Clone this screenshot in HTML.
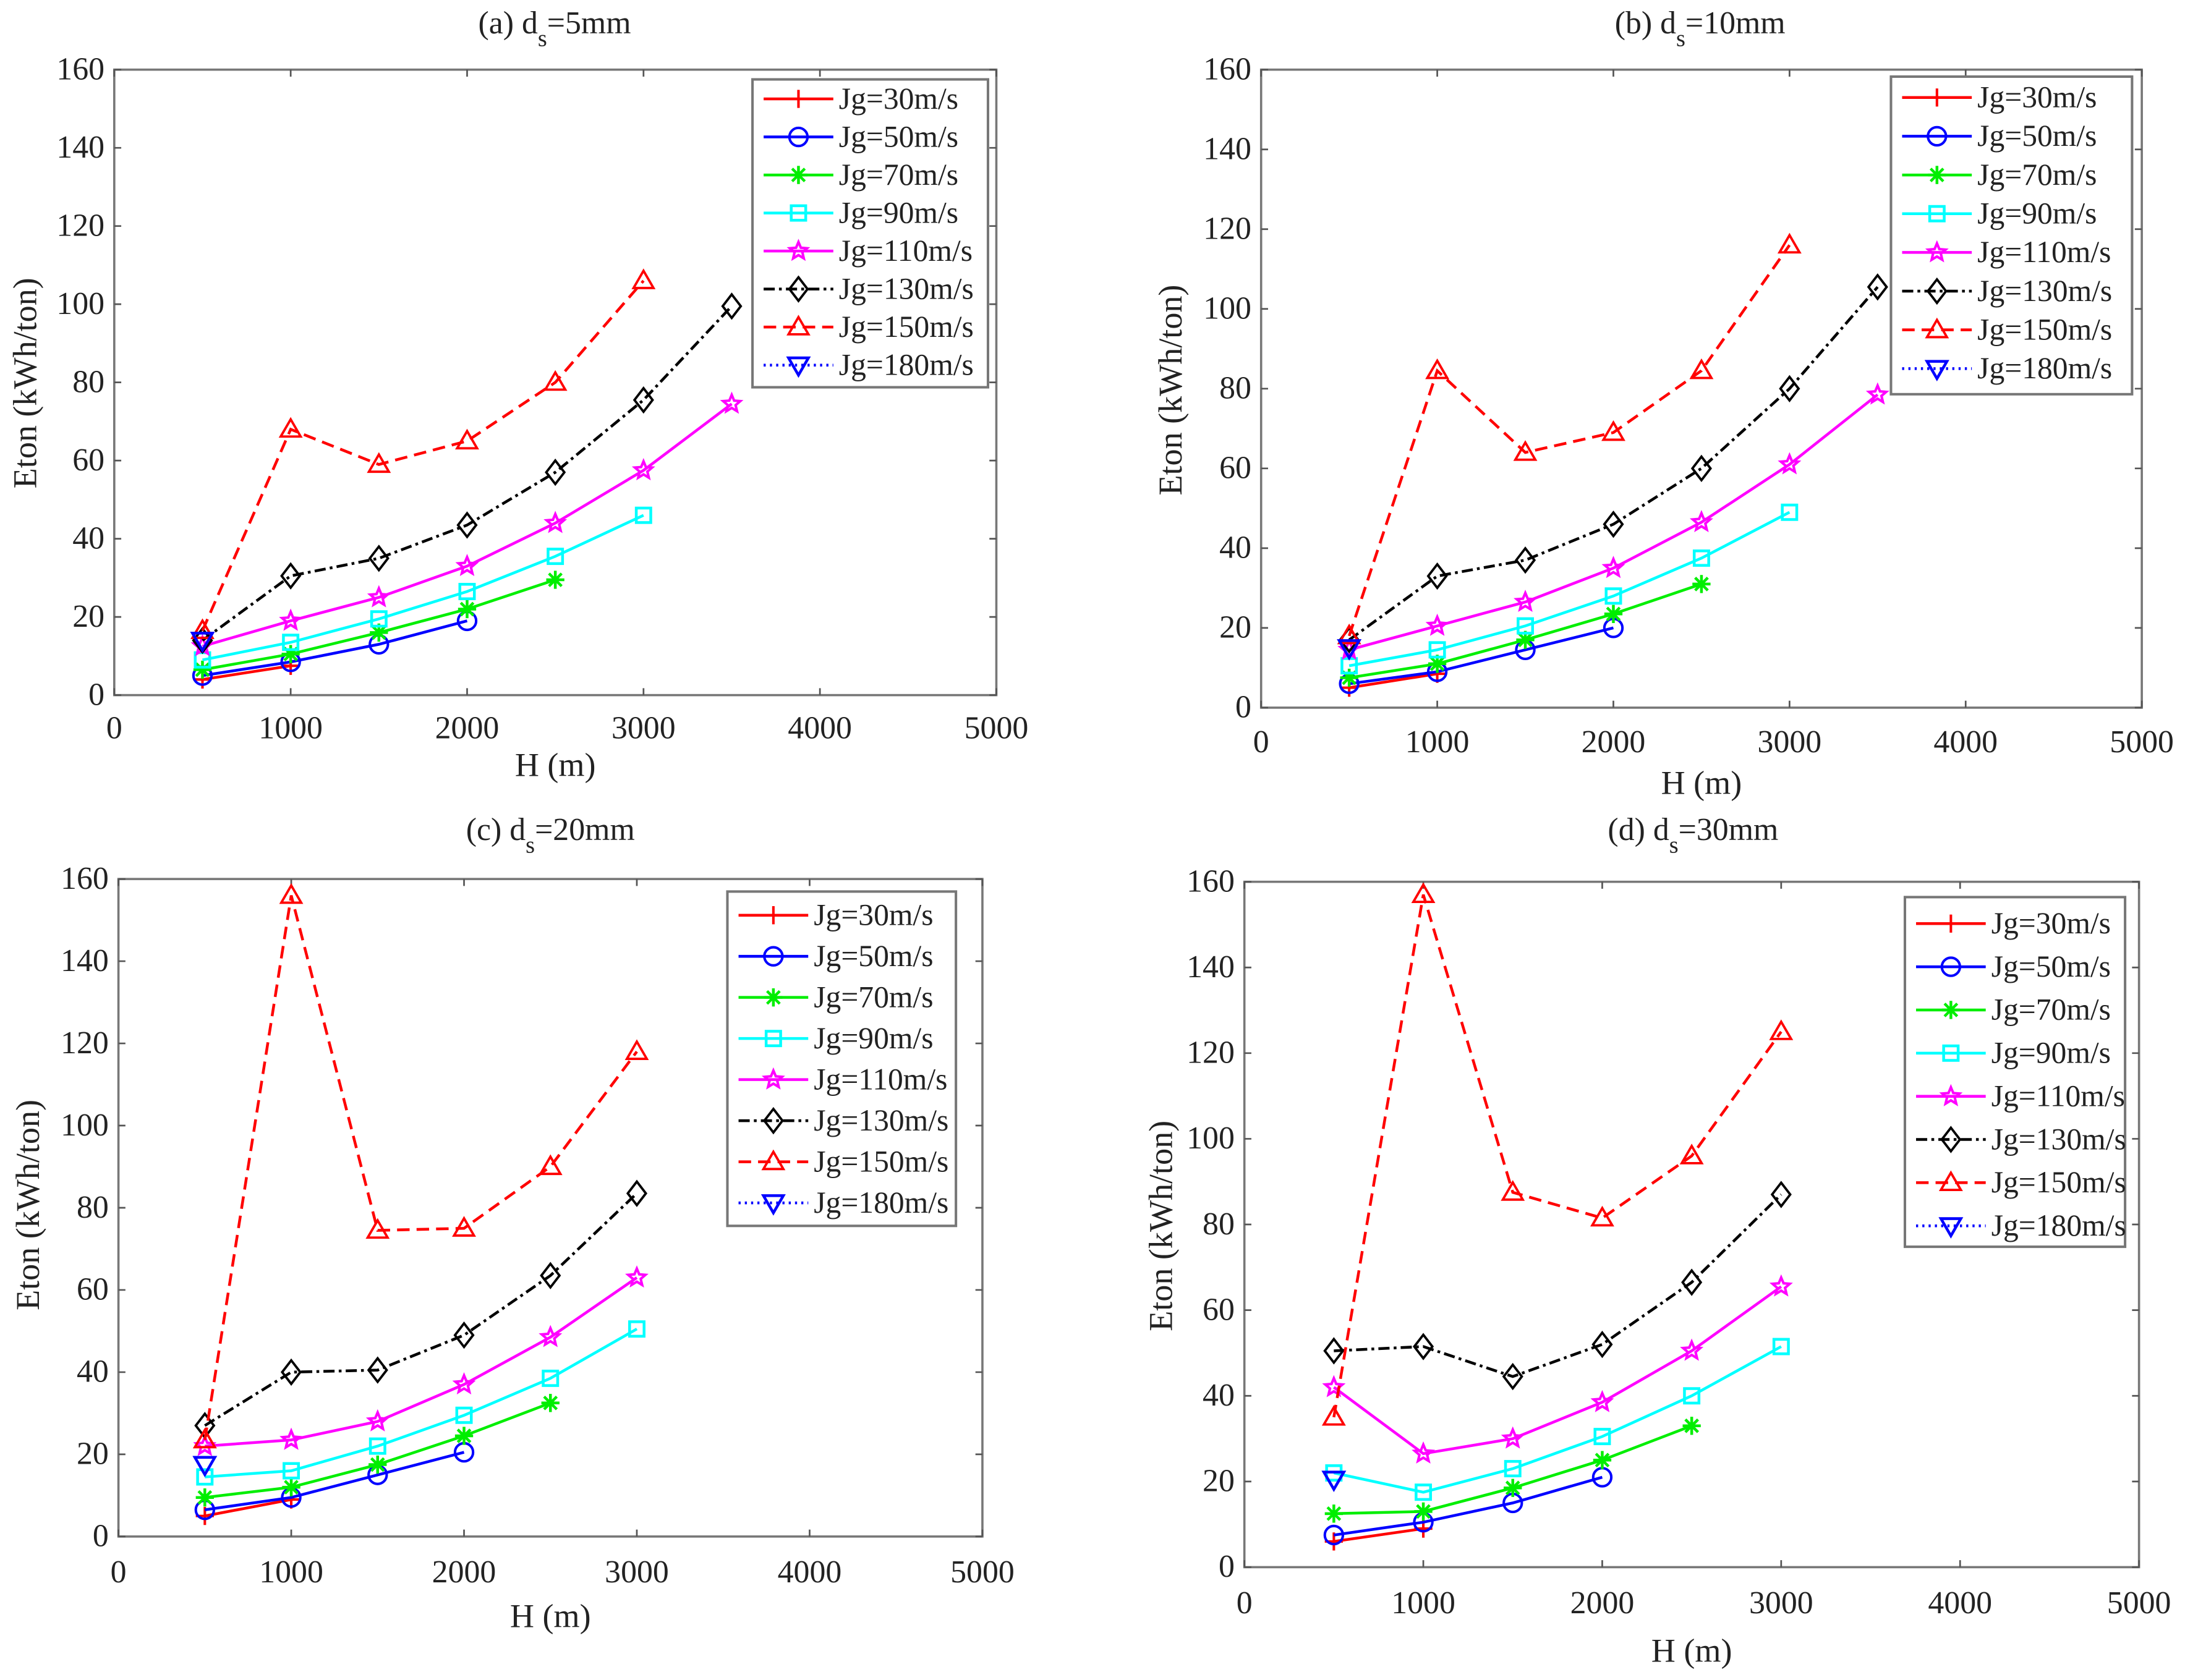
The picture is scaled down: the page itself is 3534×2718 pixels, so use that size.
<!DOCTYPE html>
<html><head><meta charset="utf-8"><style>
html,body{margin:0;padding:0;background:#fff}
svg{display:block}
svg text{font-family:"Liberation Serif","DejaVu Serif",serif;fill:#222}
</style></head><body>
<svg id="chart" width="3534" height="2718" viewBox="0 0 1568 1206" preserveAspectRatio="none" font-family="Liberation Serif, serif" xmlns="http://www.w3.org/2000/svg"></svg>
<script>
const heights = [500,1000,1500,2000,2500,3000,3500];
const seriesNames = ["Jg=30m/s","Jg=50m/s","Jg=70m/s","Jg=90m/s","Jg=110m/s","Jg=130m/s","Jg=150m/s","Jg=180m/s"];
const xTicks = [0,1000,2000,3000,4000,5000];
const yTicks = [0,20,40,60,80,100,120,140,160];
// panel (a) ds=5mm
const a30=[4,7.5], a50=[5,8.5,13,19], a70=[6.5,10.5,16,22,29.5], a90=[9,13.5,19.5,26.5,35.5,46],
      a110=[12.5,19,25,33,44,57.5,74.5], a130=[14,30.5,35,43.5,57,75.5,99.5], a150=[16.5,68,59,65,80,106], a180=[14];
// panel (b) ds=10mm
const b30=[5,8.5], b50=[6,9,14.5,20], b70=[7.5,11,17,23.5,31], b90=[10.5,14.5,20.5,28,37.5,49],
      b110=[14.5,20.5,26.5,35,46.5,61,78.5], b130=[17,33,37,46,60,80,105.5], b150=[18,84.5,64,69,84.5,116], b180=[15];
// panel (c) ds=20mm
const c30=[5,9], c50=[6.5,9.5,15,20.5], c70=[9.5,12,17.5,24.5,32.5], c90=[14.5,16,22,29.5,38.5,50.5],
      c110=[22,23.5,28,37,48.5,63], c130=[27,40,40.5,49,63.5,83.5], c150=[23.5,156,74.5,75,90,118], c180=[17.5];
// panel (d) ds=30mm
const d30=[6,9], d50=[7.5,10.5,15,21], d70=[12.5,13,18.5,25,33], d90=[22,17.5,23,30.5,40,51.5],
      d110=[42,26.5,30,38.5,50.5,65.5], d130=[50.5,51.5,44.5,52,66.5,87], d150=[35,157,87.5,81.5,96,125], d180=[20.5];

const NS="http://www.w3.org/2000/svg";
const svg=document.getElementById('chart');
function mk(tag,attrs,parent){const e=document.createElementNS(NS,tag);for(const k in attrs)e.setAttribute(k,attrs[k]);(parent||svg).appendChild(e);return e;}
const colors=["#ff0000","#0000ff","#00ee00","#00ffff","#ff00ff","#000000","#ff0000","#0000ff"];
const dashes=[null,null,null,null,null,"8 3 2 3","9 5","1.5 3"];
const markers=["plus","circle","star","square","pent","diamond","tri","tridown"];
function marker(g,type,x,y,c){
  const s=6.5;let e;
  if(type==="plus"){e=mk('path',{d:`M${x-s} ${y}H${x+s}M${x} ${y-s}V${y+s}`,stroke:c,'stroke-width':1.8,fill:'none'},g);}
  else if(type==="circle"){e=mk('circle',{cx:x,cy:y,r:s,stroke:c,'stroke-width':1.8,fill:'none'},g);}
  else if(type==="star"){e=mk('path',{d:`M${x-s} ${y}H${x+s}M${x} ${y-s}V${y+s}M${x-s*.7} ${y-s*.7}L${x+s*.7} ${y+s*.7}M${x-s*.7} ${y+s*.7}L${x+s*.7} ${y-s*.7}`,stroke:c,'stroke-width':2,fill:'none'},g);}
  else if(type==="square"){e=mk('rect',{x:x-s*.8,y:y-s*.8,width:s*1.6,height:s*1.6,stroke:c,'stroke-width':2,fill:'none'},g);}
  else if(type==="pent"){let p=[];for(let i=0;i<10;i++){const r=i%2?s*.45:s*1.0;const a=-Math.PI/2+i*Math.PI/5;p.push((x+r*Math.cos(a)).toFixed(2)+','+(y+r*Math.sin(a)).toFixed(2));}e=mk('polygon',{points:p.join(' '),stroke:c,'stroke-width':1.8,fill:'none'},g);}
  else if(type==="diamond"){e=mk('polygon',{points:`${x},${y-s*1.3} ${x+s},${y} ${x},${y+s*1.3} ${x-s},${y}`,stroke:c,'stroke-width':1.7,fill:'none'},g);}
  else if(type==="tri"){e=mk('polygon',{points:`${x},${y-s*1.1} ${x+s*1.1},${y+s*.8} ${x-s*1.1},${y+s*.8}`,stroke:c,'stroke-width':1.7,fill:'none'},g);}
  else {e=mk('polygon',{points:`${x},${y+s*1.1} ${x+s*1.1},${y-s*.8} ${x-s*1.1},${y-s*.8}`,stroke:c,'stroke-width':2,fill:'none'},g);}
  
  
}
const panels=[
 {id:'a',title:'=5mm',label:'(a) d',x0:82,x1:715,y0:499,y1:50,tc:398,ty:24,xly:557,yx:26,yc:275,tly:530,lg:[540,57,709,278],lr:71,ls:27.3,data:[a30,a50,a70,a90,a110,a130,a150,a180]},
 {id:'b',title:'=10mm',label:'(b) d',x0:905,x1:1537,y0:508,y1:50,tc:1220,ty:24,xly:570,yx:848,yc:280,tly:540,lg:[1357,55,1530,283],lr:70,ls:27.8,data:[b30,b50,b70,b90,b110,b130,b150,b180]},
 {id:'c',title:'=20mm',label:'(c) d',x0:85,x1:705,y0:1103,y1:631,tc:395,ty:603,xly:1168,yx:28,yc:865,tly:1136,lg:[522,640,686,880],lr:657,ls:29.5,data:[c30,c50,c70,c90,c110,c130,c150,c180]},
 {id:'d',title:'=30mm',label:'(d) d',x0:893,x1:1535,y0:1125,y1:633,tc:1215,ty:603,xly:1193,yx:841,yc:880,tly:1158,lg:[1367,644,1525,895],lr:663,ls:31,data:[d30,d50,d70,d90,d110,d130,d150,d180]}
];
panels.forEach(P=>{
  const g=mk('g',{});
  
  
  const X=v=>P.x0+(P.x1-P.x0)*v/5000, Y=v=>P.y0+(P.y1-P.y0)*v/160;
  const t=mk('text',{x:P.tc,y:P.ty,'text-anchor':'middle','font-size':23},g);
  
  
  t.innerHTML=P.label+'<tspan dy="9" font-size="17">s</tspan><tspan dy="-9">'+P.title+'</tspan>';
  const bx=mk('rect',{x:P.x0,y:P.y1,width:P.x1-P.x0,height:P.y0-P.y1,fill:'#fff',stroke:'#777','stroke-width':1.6},g);
  
  
  xTicks.forEach(v=>{
    mk('path',{d:`M${X(v)} ${P.y0}v-5M${X(v)} ${P.y1}v5`,stroke:'#555','stroke-width':1.2},g);
    const l=mk('text',{x:X(v),y:P.tly,'text-anchor':'middle','font-size':23},g);
    
    
    l.textContent=v;
  });
  yTicks.forEach(v=>{
    mk('path',{d:`M${P.x0} ${Y(v)}h5M${P.x1} ${Y(v)}h-5`,stroke:'#555','stroke-width':1.2},g);
    const l=mk('text',{x:P.x0-7,y:Y(v)+7,'text-anchor':'end','font-size':23},g);
    
    
    l.textContent=v;
  });
  const xl=mk('text',{x:(P.x0+P.x1)/2,y:P.xly,'text-anchor':'middle','font-size':24},g);
  
  
  xl.textContent='H (m)';
  const yl=mk('text',{x:P.yx,y:P.yc,'text-anchor':'middle','font-size':24,transform:`rotate(-90 ${P.yx} ${P.yc})`},g);
  
  
  yl.textContent='Eton (kWh/ton)';
  P.data.forEach((vals,i)=>{
    const sg=mk('g',{},g);
    
    
    const pts=vals.map((v,j)=>X(heights[j]).toFixed(2)+','+Y(v).toFixed(2)).join(' ');
    const pl=mk('polyline',{points:pts,fill:'none',stroke:colors[i],'stroke-width':2},sg);
    if(dashes[i])pl.setAttribute('stroke-dasharray',dashes[i]);
    
    
    vals.forEach((v,j)=>marker(sg,markers[i],X(heights[j]),Y(v),colors[i]));
  });
  const [lx0,ly0,lx1,ly1]=P.lg;
  const lgg=mk('g',{},g);
  
  
  mk('rect',{x:lx0,y:ly0,width:lx1-lx0,height:ly1-ly0,fill:'#fff',stroke:'#777','stroke-width':1.8},lgg);
  seriesNames.forEach((n,i)=>{
    const yy=P.lr+i*P.ls;
    const eg=mk('g',{},lgg);
    
    
    const ln=mk('line',{x1:lx0+8,x2:lx0+58,y1:yy,y2:yy,stroke:colors[i],'stroke-width':2},eg);
    if(dashes[i])ln.setAttribute('stroke-dasharray',dashes[i]);
    marker(eg,markers[i],lx0+33,yy,colors[i]);
    const tx=mk('text',{x:lx0+62,y:yy+7,'font-size':22},eg);
    tx.textContent=n;
  });
});
</script>
</body></html>
